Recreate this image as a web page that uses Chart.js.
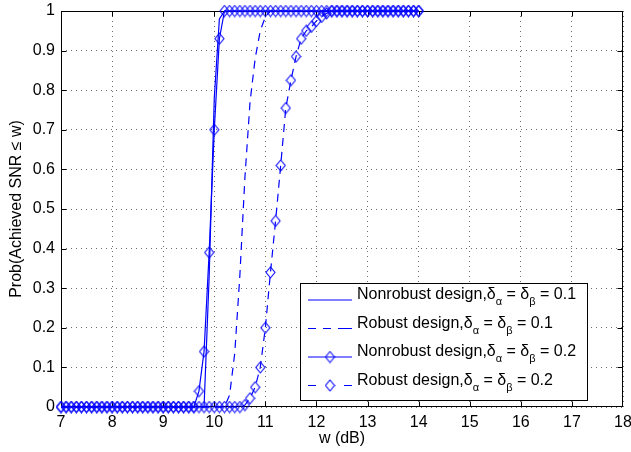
<!DOCTYPE html>
<html>
<head>
<meta charset="utf-8">
<script src="https://cdn.jsdelivr.net/npm/chart.js@4.4.0/dist/chart.umd.min.js"></script>
<style>
  html, body { margin: 0; padding: 0; background: #fff; }
  #wrap { width: 631px; height: 452px; }
</style>
</head>
<body>
<div id="wrap"><canvas id="c" width="631" height="452"></canvas></div>
<script>
// x grid (dB) used by the marker curves
const wGrid = [
  7.0, 7.1, 7.2, 7.3, 7.4, 7.5, 7.6, 7.7, 7.8, 7.9,
  8.0, 8.1, 8.2, 8.3, 8.4, 8.5, 8.6, 8.7, 8.8, 8.9,
  9.0, 9.1, 9.2, 9.3, 9.4, 9.5, 9.6, 9.7, 9.8, 9.9,
  10.0, 10.1, 10.2, 10.3, 10.4, 10.5, 10.6, 10.7, 10.8, 10.9,
  11.0, 11.1, 11.2, 11.3, 11.4, 11.5, 11.6, 11.7, 11.8, 11.9,
  12.0, 12.1, 12.2, 12.3, 12.4, 12.5, 12.6, 12.7, 12.8, 12.9,
  13.0, 13.1, 13.2, 13.3, 13.4, 13.5, 13.6, 13.7, 13.8, 13.9,
  14.0
];

// Nonrobust design, delta = 0.2 (solid + diamonds)
const pNonrobust02 = [
  0, 0, 0, 0, 0, 0, 0, 0, 0, 0,
  0, 0, 0, 0, 0, 0, 0, 0, 0, 0,
  0, 0, 0, 0, 0, 0, 0, 0.04, 0.14, 0.39,
  0.70, 0.93, 1, 1, 1, 1, 1, 1, 1, 1,
  1, 1, 1, 1, 1, 1, 1, 1, 1, 1,
  1, 1, 1, 1, 1, 1, 1, 1, 1, 1,
  1, 1, 1, 1, 1, 1, 1, 1, 1, 1,
  1
];

// Robust design, delta = 0.2 (dashed + diamonds)
const pRobust02 = [
  0, 0, 0, 0, 0, 0, 0, 0, 0, 0,
  0, 0, 0, 0, 0, 0, 0, 0, 0, 0,
  0, 0, 0, 0, 0, 0, 0, 0, 0, 0,
  0, 0, 0, 0, 0, 0, 0.005, 0.022, 0.05, 0.10,
  0.20, 0.34, 0.47, 0.61, 0.755, 0.825, 0.885, 0.93, 0.95, 0.96,
  0.975, 0.985, 0.994, 1, 1, 1, 1, 1, 1, 1,
  1, 1, 1, 1, 1, 1, 1, 1, 1, 1,
  1
];

// Nonrobust design, delta = 0.1 (solid, no markers)
const wNonrobust01 = [7, 9.8, 9.9, 10.0, 10.1, 10.2, 14];
const pNonrobust01 = [0, 0, 0.33, 0.78, 0.98, 1, 1];

// Robust design, delta = 0.1 (dashed, no markers)
const wRobust01 = [7, 10.2, 10.3, 10.4, 10.5, 10.6, 10.7, 10.8, 10.9, 11.0, 11.1, 14];
const pRobust01 = [0, 0, 0.03, 0.135, 0.33, 0.58, 0.77, 0.88, 0.95, 0.985, 1, 1];

const xTicks = [7, 8, 9, 10, 11, 12, 13, 14, 15, 16, 17, 18];
const yTicks = [0, 0.1, 0.2, 0.3, 0.4, 0.5, 0.6, 0.7, 0.8, 0.9, 1];
const yTickLabels = ['0', '0.1', '0.2', '0.3', '0.4', '0.5', '0.6', '0.7', '0.8', '0.9', '1'];

const legendNames = ['Nonrobust design,', 'Robust design,', 'Nonrobust design,', 'Robust design,'];
const legendDelta = ['0.1', '0.1', '0.2', '0.2'];

const xTitle = 'w (dB)';
const yTitle = 'Prob(Achieved SNR \u2264 w)';

const BLUE = '#0000ff';
const FONT = "'Liberation Sans', Arial, Helvetica, sans-serif";

function pairs(xs, ys) {
  return xs.map((x, i) => ({ x: x, y: ys[i] }));
}

// hollow diamond marker, a bit taller than wide like matlab's 'd'
function makeDiamond() {
  const c = document.createElement('canvas');
  c.width = 11;
  c.height = 13;
  const g = c.getContext('2d');
  g.strokeStyle = BLUE;
  g.lineWidth = 1.1;
  g.beginPath();
  g.moveTo(5.5, 1);
  g.lineTo(10, 6.5);
  g.lineTo(5.5, 12);
  g.lineTo(1, 6.5);
  g.closePath();
  g.stroke();
  return c;
}
const diamond = makeDiamond();

// legend line samples: list of [x0, x1] pieces per row
const legendStyles = [
  { pieces: [[308, 352]], marker: false },
  { pieces: [[308, 316], [323, 331], [338, 352]], marker: false },
  { pieces: [[308, 352]], marker: true },
  { pieces: [[308, 316], [344, 352]], marker: true }
];

function drawLabel(ctx, x, y, name, val) {
  const main = '16px ' + FONT;
  const sub = '11px ' + FONT;
  const parts = [
    [name + '\u03b4', main, 0],
    ['\u03b1', sub, 6],
    [' = \u03b4', main, 0],
    ['\u03b2', sub, 6],
    [' = ' + val, main, 0]
  ];
  for (const [t, f, dy] of parts) {
    ctx.font = f;
    ctx.fillText(t, x, y + dy);
    x += ctx.measureText(t).width;
  }
}

const frame = {
  id: 'frame',
  beforeDatasetsDraw(chart) {
    const { ctx, chartArea: a, scales } = chart;
    const L = Math.round(a.left) + 0.5, R = Math.round(a.right) - 0.5;
    const T = Math.round(a.top) + 0.5, B = Math.round(a.bottom) - 0.5;
    ctx.save();
    ctx.strokeStyle = '#000';
    ctx.lineWidth = 1;
    ctx.setLineDash([]);
    ctx.strokeRect(L, T, R - L, B - T);
    // inward tick marks on all four sides
    ctx.beginPath();
    xTicks.slice(1, -1).forEach(v => {
      const px = Math.round(scales.x.getPixelForValue(v)) + 0.5;
      ctx.moveTo(px, B); ctx.lineTo(px, B - 5);
      ctx.moveTo(px, T); ctx.lineTo(px, T + 5);
    });
    yTicks.slice(1, -1).forEach(v => {
      const py = Math.round(scales.y.getPixelForValue(v)) + 0.5;
      ctx.moveTo(L, py); ctx.lineTo(L + 5, py);
      ctx.moveTo(R, py); ctx.lineTo(R - 5, py);
    });
    ctx.stroke();

    // axis titles
    ctx.fillStyle = '#000';
    ctx.font = '16px ' + FONT;
    ctx.textAlign = 'center';
    ctx.textBaseline = 'middle';
    ctx.fillText(xTitle, (a.left + a.right) / 2, 439);
    ctx.translate(17, (a.top + a.bottom) / 2);
    ctx.rotate(-Math.PI / 2);
    ctx.fillText(yTitle, 0, 0);
    ctx.restore();
  },
  afterDatasetsDraw(chart) {
    const ctx = chart.ctx;
    const bx = 300.5, by = 283.5, bw = 287, bh = 117;
    ctx.save();
    ctx.fillStyle = '#fff';
    ctx.fillRect(bx, by, bw, bh);
    ctx.strokeStyle = '#000';
    ctx.lineWidth = 1;
    ctx.strokeRect(bx, by, bw, bh);
    ctx.textAlign = 'left';
    ctx.textBaseline = 'alphabetic';
    legendNames.forEach((name, i) => {
      const base = 299 + i * 28.5;
      const st = legendStyles[i];
      ctx.strokeStyle = BLUE;
      ctx.lineWidth = 1.2;
      ctx.beginPath();
      st.pieces.forEach(([x0, x1]) => {
        ctx.moveTo(x0, base + 1);
        ctx.lineTo(x1, base + 1);
      });
      ctx.stroke();
      if (st.marker) {
        ctx.drawImage(diamond, 330 - 5.5, base + 1 - 6.5);
      }
      ctx.fillStyle = '#000';
      drawLabel(ctx, 357, base, name, legendDelta[i]);
    });
    ctx.restore();
  }
};

new Chart(document.getElementById('c').getContext('2d'), {
  type: 'line',
  data: {
    datasets: [
      {
        data: pairs(wNonrobust01, pNonrobust01),
        borderColor: BLUE,
        borderWidth: 1.2,
        pointRadius: 0,
        tension: 0,
        clip: false
      },
      {
        data: pairs(wRobust01, pRobust01),
        borderColor: BLUE,
        borderWidth: 1.2,
        borderDash: [8, 6],
        pointRadius: 0,
        tension: 0,
        clip: false
      },
      {
        data: pairs(wGrid, pNonrobust02),
        borderColor: BLUE,
        borderWidth: 1.2,
        pointStyle: diamond,
        pointRadius: 5,
        tension: 0,
        clip: false
      },
      {
        data: pairs(wGrid, pRobust02),
        borderColor: BLUE,
        borderWidth: 1.2,
        borderDash: [8, 6],
        pointStyle: diamond,
        pointRadius: 5,
        tension: 0,
        clip: false
      }
    ]
  },
  options: {
    responsive: false,
    animation: false,
    events: [],
    layout: { padding: { left: 0, right: 8, top: 11, bottom: 0 } },
    plugins: {
      legend: { display: false },
      tooltip: { enabled: false }
    },
    scales: {
      x: {
        type: 'linear',
        min: 7,
        max: 18,
        afterBuildTicks: s => { s.ticks = xTicks.map(v => ({ value: v })); },
        afterFit: s => { s.height = 45; s.paddingLeft = 0; s.paddingRight = 0; },
        grid: { color: '#6e6e6e', lineWidth: 1, drawTicks: false },
        border: { display: false, dash: [1, 4] },
        ticks: {
          color: '#000',
          font: { family: FONT, size: 16 },
          padding: 6,
          maxRotation: 0,
          autoSkip: false
        }
      },
      y: {
        type: 'linear',
        min: 0,
        max: 1,
        afterBuildTicks: s => { s.ticks = yTicks.map(v => ({ value: v })); },
        afterFit: s => { s.width = 61; s.paddingTop = 0; s.paddingBottom = 0; },
        grid: { color: '#6e6e6e', lineWidth: 1, drawTicks: false },
        border: { display: false, dash: [1, 4] },
        ticks: {
          color: '#000',
          font: { family: FONT, size: 16 },
          padding: 6,
          autoSkip: false,
          callback: (v, i) => yTickLabels[i]
        }
      }
    }
  },
  plugins: [frame]
});
</script>
</body>
</html>
